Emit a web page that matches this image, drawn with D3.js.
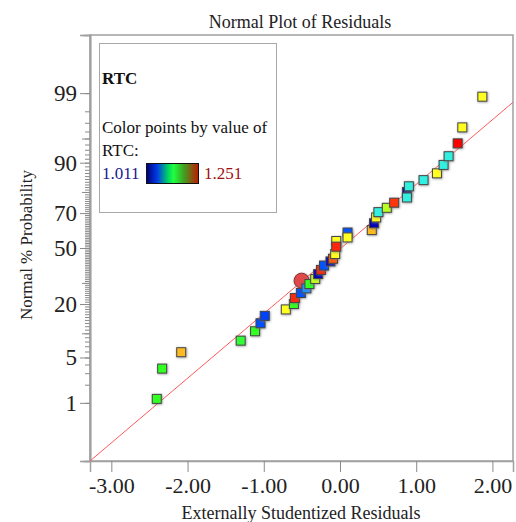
<!DOCTYPE html>
<html>
<head>
<meta charset="utf-8">
<title>Normal Plot of Residuals</title>
<script src="https://d3js.org/d3.v7.min.js"></script>
<style>
  body { margin: 0; background: #fff; }
  text { font-family: "Liberation Serif", "Times New Roman", serif; }
</style>
</head>
<body>
<div id="chart"></div>
<script>
// residuals (x), normal % probability (y), RTC value (colour)
const residuals = [-2.404, -2.333, -2.083, -1.303, -1.114, -1.043, -0.987, -0.711, -0.605, -0.592,
                   -0.513, -0.441, -0.401, -0.325, -0.286, -0.250, -0.210, -0.125, -0.092, -0.063,
                   -0.049, -0.049, 0.099, 0.099, 0.417, 0.447, 0.474, 0.504, 0.614, 0.711,
                   0.878, 0.878, 0.904, 1.096, 1.272, 1.359, 1.425, 1.544, 1.605, 1.868];
const probs = [1.17, 3.50, 5.87, 8.20, 10.55, 12.9, 15.4, 17.8, 20.0, 22.6,
               24.95, 27.2, 29.4, 32.1, 34.8, 37.1, 39.6, 42.0, 43.6, 46.4,
               54.2, 50.8, 59.2, 56.3, 60.6, 64.5, 67.7, 70.5, 72.7, 75.2,
               80.0, 77.6, 82.3, 84.6, 86.9, 89.4, 91.6, 94.2, 96.5, 98.85];
const rtc = [1.131, 1.131, 1.200, 1.128, 1.131, 1.059, 1.055, 1.179, 1.131, 1.240,
             1.060, 1.083, 1.131, 1.158, 1.025, 1.240, 1.060, 1.030, 1.225, 1.179,
             1.179, 1.240, 1.060, 1.179, 1.200, 1.025, 1.179, 1.107, 1.155, 1.235,
             1.025, 1.107, 1.107, 1.107, 1.179, 1.107, 1.107, 1.251, 1.179, 1.179];

// selected run, drawn as a circle
const selResidual = [-0.504];
const selProb = [31.2];

const xTicks = [-3, -2, -1, 0, 1, 2];
const yTicks = [1, 5, 20, 50, 70, 90, 99];
const yMidTicks = [10, 30, 80, 95];
const yMinorTicks = d3.range(1, 100);

// fitted reference line: z = a + b * residual
const fitA = -0.015, fitB = 0.971;

const rtcMin = 1.011, rtcMax = 1.251;
const rtcStops = [1.011, 1.035, 1.059, 1.083, 1.107, 1.131, 1.155, 1.179, 1.203, 1.227, 1.251];
const rtcColors = ["#00008b", "#0000d8", "#0050ff", "#2090ff", "#30f0e0", "#30ff20",
                   "#b8ff20", "#ffff20", "#ffb020", "#ff5010", "#ff0000"];

// inverse normal cdf (Acklam)
function probit(p) {
  const a = [-3.969683028665376e+01, 2.209460984245205e+02, -2.759285104469687e+02, 1.383577518672690e+02, -3.066479806614716e+01, 2.506628277459239e+00];
  const b = [-5.447609879822406e+01, 1.615858368580409e+02, -1.556989798598866e+02, 6.680131188771972e+01, -1.328068155288572e+01];
  const c = [-7.784894002430293e-03, -3.223964580411365e-01, -2.400758277161838e+00, -2.549732539343734e+00, 4.374664141464968e+00, 2.938163982698783e+00];
  const d = [7.784695709041462e-03, 3.224671290700398e-01, 2.445134137142996e+00, 3.754408661907416e+00];
  const pl = 0.02425;
  if (p < pl) {
    const q = Math.sqrt(-2 * Math.log(p));
    return (((((c[0]*q+c[1])*q+c[2])*q+c[3])*q+c[4])*q+c[5]) / ((((d[0]*q+d[1])*q+d[2])*q+d[3])*q+1);
  }
  if (p > 1 - pl) {
    const q = Math.sqrt(-2 * Math.log(1 - p));
    return -(((((c[0]*q+c[1])*q+c[2])*q+c[3])*q+c[4])*q+c[5]) / ((((d[0]*q+d[1])*q+d[2])*q+d[3])*q+1);
  }
  const q = p - 0.5, r = q * q;
  return (((((a[0]*r+a[1])*r+a[2])*r+a[3])*r+a[4])*r+a[5])*q / (((((b[0]*r+b[1])*r+b[2])*r+b[3])*r+b[4])*r+1);
}

const W = 516, H = 522;
const m = { left: 90, right: 513, top: 35, bottom: 461 };

const x = d3.scaleLinear().domain([-3.28, 2.27]).range([m.left, m.right]);
const yz = d3.scaleLinear().domain([-3.2, 3.2]).range([m.bottom, m.top]);
const y = p => yz(probit(p / 100));
const color = d3.scaleLinear().domain(rtcStops).range(rtcColors);

const svg = d3.select("#chart").append("svg")
  .attr("width", W).attr("height", H);

const defs = svg.append("defs");
defs.append("clipPath").attr("id", "plotclip")
  .append("rect").attr("x", m.left).attr("y", m.top)
  .attr("width", m.right - m.left).attr("height", m.bottom - m.top);
const shadow = defs.append("filter").attr("id", "shadow")
  .attr("x", "-50%").attr("y", "-50%").attr("width", "200%").attr("height", "200%");
shadow.append("feDropShadow").attr("dx", 0.6).attr("dy", 0.6)
  .attr("stdDeviation", 1.1).attr("flood-color", "#777").attr("flood-opacity", 0.8);
const grad = defs.append("linearGradient").attr("id", "rtcgrad");
[[0, "#000070"], [0.2, "#0038e8"], [0.42, "#00d860"], [0.52, "#20ff40"], [0.72, "#40a020"], [1, "#c01800"]]
  .forEach(s => grad.append("stop").attr("offset", s[0]).attr("stop-color", s[1]));

// title
svg.append("text").attr("x", 300).attr("y", 28)
  .attr("text-anchor", "middle").attr("font-size", 18).attr("fill", "#222")
  .text("Normal Plot of Residuals");

// plot frame
svg.append("rect").attr("x", m.left).attr("y", m.top)
  .attr("width", m.right - m.left).attr("height", m.bottom - m.top)
  .attr("fill", "#fff").attr("stroke", "#a0a0a0").attr("stroke-width", 1.5);

// y axis: minor, mid, major ticks
const yMinor = svg.append("g").attr("transform", `translate(${m.left},0)`)
  .call(d3.axisLeft(yz).tickValues(yMinorTicks.map(p => probit(p / 100))).tickSize(5).tickFormat(""));
const yMid = svg.append("g").attr("transform", `translate(${m.left},0)`)
  .call(d3.axisLeft(yz).tickValues(yMidTicks.map(p => probit(p / 100))).tickSize(8).tickFormat(""));
const yMajor = svg.append("g").attr("transform", `translate(${m.left},0)`)
  .call(d3.axisLeft(yz).tickValues(yTicks.map(p => probit(p / 100))).tickSize(10).tickPadding(3)
    .tickFormat((d, i) => yTicks[i]));
[yMinor, yMid, yMajor].forEach(g => {
  g.select(".domain").attr("stroke", "#a0a0a0").attr("stroke-width", 1.5);
  g.selectAll(".tick line").attr("stroke", "#8a8a8a");
});
yMajor.selectAll(".tick text").attr("font-size", 23).attr("fill", "#222")
  .attr("font-family", "Liberation Serif");

// x axis
const xAxis = svg.append("g").attr("transform", `translate(0,${m.bottom})`)
  .call(d3.axisBottom(x).tickValues(xTicks).tickSize(11).tickPadding(5).tickFormat(d3.format(".2f")));
xAxis.select(".domain").attr("stroke", "#a0a0a0").attr("stroke-width", 1.5);
xAxis.selectAll(".tick line").attr("stroke", "#8a8a8a");
xAxis.selectAll(".tick text").attr("font-size", 22).attr("fill", "#222")
  .attr("font-family", "Liberation Serif")
  .text(d => d3.format(".2f")(d).replace("−", "-"));

// axis titles
svg.append("text").attr("x", 301).attr("y", 519)
  .attr("text-anchor", "middle").attr("font-size", 18).attr("fill", "#222")
  .text("Externally Studentized Residuals");
svg.append("text").attr("transform", "translate(32,245) rotate(-90)")
  .attr("text-anchor", "middle").attr("font-size", 17).attr("fill", "#222")
  .text("Normal % Probability");

const plot = svg.append("g").attr("clip-path", "url(#plotclip)");

// reference line
const xd = x.domain();
plot.append("path")
  .datum(xd.map(v => [v, fitA + fitB * v]))
  .attr("d", d3.line().x(d => x(d[0])).y(d => yz(d[1])))
  .attr("fill", "none").attr("stroke", "#ff5a5a").attr("stroke-width", 1);

// selected point
plot.selectAll("circle.sel")
  .data(selResidual.map((r, i) => ({ r, p: selProb[i] })))
  .join("circle").attr("class", "sel")
  .attr("cx", d => x(d.r)).attr("cy", d => y(d.p)).attr("r", 7.5)
  .attr("fill", "#e04848").attr("stroke", "#8a3030").attr("stroke-width", 1)
  .attr("filter", "url(#shadow)");

// residual points
const s = 9;
plot.selectAll("rect.pt")
  .data(residuals.map((r, i) => ({ r, p: probs[i], v: rtc[i] })))
  .join("rect").attr("class", "pt")
  .attr("x", d => x(d.r) - s / 2).attr("y", d => y(d.p) - s / 2)
  .attr("width", s).attr("height", s)
  .attr("fill", d => color(d.v))
  .attr("stroke", "#444").attr("stroke-width", 1)
  .attr("filter", "url(#shadow)");

// legend
const lg = svg.append("g");
lg.append("rect").attr("x", 99.5).attr("y", 43.5).attr("width", 177).attr("height", 169)
  .attr("fill", "#fff").attr("stroke", "#a8a8a8").attr("stroke-width", 1);
lg.append("text").attr("x", 102).attr("y", 84).attr("font-size", 17)
  .attr("font-weight", "bold").attr("fill", "#111").text("RTC");
lg.append("text").attr("x", 102).attr("y", 133).attr("font-size", 17)
  .attr("fill", "#111").text("Color points by value of");
lg.append("text").attr("x", 102).attr("y", 156).attr("font-size", 17)
  .attr("fill", "#111").text("RTC:");
lg.append("text").attr("x", 102).attr("y", 179).attr("font-size", 17)
  .attr("fill", "#1a1a8c").text(rtcMin.toFixed(3));
lg.append("rect").attr("x", 146.5).attr("y", 163.5).attr("width", 52).attr("height", 20)
  .attr("fill", "url(#rtcgrad)").attr("stroke", "#111").attr("stroke-width", 1);
lg.append("text").attr("x", 204).attr("y", 179).attr("font-size", 17)
  .attr("fill", "#a01010").text(rtcMax.toFixed(3));
</script>
</body>
</html>
